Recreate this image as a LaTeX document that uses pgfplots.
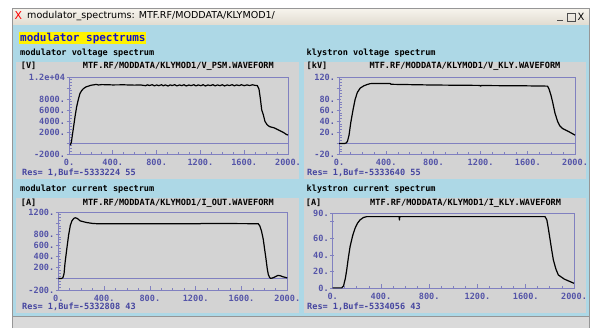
\documentclass[border=0pt]{standalone}
\usepackage{fontspec}
\usepackage{pgfplots}
\pgfplotsset{compat=1.18}
\setmainfont{DejaVu Sans}
\newfontfamily\mono{DejaVu Sans Mono}
\definecolor{lblue}{RGB}{173,216,230}
\definecolor{pgrey}{RGB}{211,211,211}
\definecolor{tickcol}{RGB}{84,84,168}
\definecolor{axcol}{RGB}{128,128,192}
\definecolor{restext}{RGB}{70,70,160}
\definecolor{hlblue}{RGB}{20,20,200}
\definecolor{framegrey}{RGB}{150,150,150}
\definecolor{bottomgrey}{RGB}{218,218,218}
\definecolor{bartop}{RGB}{246,243,236}
\definecolor{barbot}{RGB}{226,221,210}
\newcommand{\lab}{\mono\bfseries\fontsize{8.6}{9}\selectfont}
\pgfplotsset{
  kly/.style={
    scale only axis,
    scaled x ticks=false,
    scaled y ticks=false,
    axis line style={axcol, line width=0.8bp},
    tick style={axcol, line width=0.8bp},
    major tick length=4bp,
    minor tick length=2.5bp,
    tick align=inside,
    tick pos=left,
    minor x tick num=3,
    minor y tick num=3,
    major y tick style={xshift=-2.5bp},
    ticklabel style={font=\lab, text=tickcol},
    xticklabel style={yshift=-1.5bp},
    yticklabel style={xshift=-0.5bp},
    xmin=0, xmax=2000,
    xtick={0,400,800,1200,1600,2000},
    xticklabels={0.,400.,800.,1200.,1600.,2000.},
    axis background/.style={fill=pgrey},
    clip=false,
  },
  curve/.style={black, line width=1.2bp, line join=round},
  zeroline/.style={axcol, line width=0.8bp},
}
\begin{document}
\begin{tikzpicture}[x=1bp,y=1bp]
\useasboundingbox (0,0) rectangle (590,328);
\fill[white] (0,0) rectangle (590,328);
% window
\fill[bottomgrey] (13,0) rectangle (590,12);
\fill[lblue] (13,12) rectangle (589,304);
\shade[top color=bartop, bottom color=barbot] (13,304) rectangle (589,319);
\draw[framegrey, line width=1bp] (12.5,0) -- (12.5,319.5) -- (589.5,319.5) -- (589.5,0);
\draw[framegrey, line width=0.8bp] (13,12) -- (589,12);
\node[anchor=west, inner sep=0, text=red, font=\fontsize{11}{12}\selectfont] at (14.5,312) {X};
\node[anchor=west, inner sep=0, font=\fontsize{9.6}{11}\selectfont] at (27,312) {modulator\_spectrums: MTF.RF/MODDATA/KLYMOD1/};
% window buttons
\draw[black!70, line width=1bp] (557,307.5) -- (563,307.5);
\draw[black!70, line width=0.8bp] (567,307) rectangle (575,315);
\node[anchor=center, inner sep=0, font=\fontsize{10}{11}\selectfont] at (581,311) {X};
% highlight title
\fill[yellow] (19,283.7) rectangle (145.7,295.7);
\node[anchor=west, inner sep=0, text=hlblue, font=\mono\bfseries\fontsize{11}{12}\selectfont] at (20,289.5) {modulator spectrums};
% panels
\fill[pgrey] (16,149) rectangle (299,266);
\fill[pgrey] (304,149) rectangle (586,266);
\fill[pgrey] (16,15.3) rectangle (299,130);
\fill[pgrey] (304,15.3) rectangle (586,130);
% panel titles
\node[anchor=west, inner sep=0, font=\lab] at (20,275) {modulator voltage spectrum};
\node[anchor=west, inner sep=0, font=\lab] at (306.5,275) {klystron voltage spectrum};
\node[anchor=west, inner sep=0, font=\lab] at (20,139) {modulator current spectrum};
\node[anchor=west, inner sep=0, font=\lab] at (306.5,139) {klystron current spectrum};
% headers
\node[anchor=west, inner sep=0, font=\lab] at (20.7,262) {[V]};
\node[anchor=west, inner sep=0, font=\lab] at (82.7,262) {MTF.RF/MODDATA/KLYMOD1/V\_PSM.WAVEFORM};
\node[anchor=west, inner sep=0, font=\lab] at (306.5,262) {[kV]};
\node[anchor=west, inner sep=0, font=\lab] at (369.3,262) {MTF.RF/MODDATA/KLYMOD1/V\_KLY.WAVEFORM};
\node[anchor=west, inner sep=0, font=\lab] at (20.7,124.7) {[A]};
\node[anchor=west, inner sep=0, font=\lab] at (82.7,124.7) {MTF.RF/MODDATA/KLYMOD1/I\_OUT.WAVEFORM};
\node[anchor=west, inner sep=0, font=\lab] at (305.7,124.7) {[A]};
\node[anchor=west, inner sep=0, font=\lab] at (370,124.7) {MTF.RF/MODDATA/KLYMOD1/I\_KLY.WAVEFORM};
% Res lines
\node[anchor=west, inner sep=0, font=\lab, text=restext] at (22,155.5) {Res= 1,Buf=-5333224 55};
\node[anchor=west, inner sep=0, font=\lab, text=restext] at (307,155.5) {Res= 1,Buf=-5333640 55};
\node[anchor=west, inner sep=0, font=\lab, text=restext] at (22,21.5) {Res= 1,Buf=-5332808 43};
\node[anchor=west, inner sep=0, font=\lab, text=restext] at (307,21.5) {Res= 1,Buf=-5334056 43};

% ---------- top left: modulator voltage
\begin{axis}[kly, at={(69bp,174bp)}, anchor=south west, width=219bp, height=77bp,
  ymin=-2000, ymax=12000,
  ytick={-2000,0,2000,4000,6000,8000,10000,12000},
  yticklabels={-2000.,{},2000.,4000.,6000.,8000.,{},1.2e+04}]
\addplot[zeroline] coordinates {(0,0) (2000,0)};
\addplot[curve] coordinates {
(12,-400) (22,200) (32,1600) (45,3400) (55,4800) (70,6600) (85,7900) (100,9000)
(115,9500) (130,9850) (155,10200) (200,10500) (250,10650) (270,10550) (300,10620) (400,10560)
(500,10580) (600,10520) (650,10560) (700,10420) (715,10580) (735,10450) (760,10600)
(780,10380) (800,10560) (820,10420) (845,10600) (860,10400) (880,10560) (905,10360)
(925,10580) (940,10430) (965,10600) (985,10380) (1010,10560) (1030,10420) (1050,10600)
(1070,10370) (1095,10550) (1115,10430) (1140,10600) (1160,10380) (1180,10560)
(1205,10420) (1225,10600) (1245,10370) (1270,10560) (1290,10430) (1315,10600)
(1335,10380) (1355,10560) (1380,10420) (1400,10600) (1420,10370) (1445,10560)
(1465,10430) (1490,10600) (1510,10390) (1530,10560) (1555,10430) (1575,10600)
(1600,10420) (1625,10560) (1650,10450) (1675,10580) (1700,10480)
(1720,10450) (1735,9800) (1748,8000) (1760,6000) (1775,5100) (1790,3900)
(1810,3300) (1830,3000) (1845,2900) (1865,2800) (1880,2700) (1900,2500)
(1920,2300) (1960,1900) (1985,1550) (2000,1450)};
\end{axis}

% ---------- top right: klystron voltage
\begin{axis}[kly, at={(339bp,173.5bp)}, anchor=south west, width=236bp, height=77.5bp,
  ymin=-20, ymax=120,
  ytick={-20,0,20,40,60,80,100,120},
  yticklabels={-20.,{},20.,40.,60.,80.,{},120.}]
\addplot[zeroline] coordinates {(0,0) (2000,0)};
\addplot[curve] coordinates {
(0,0) (50,0) (62,1) (72,4) (85,15) (100,38) (120,62) (136,79) (155,92) (180,100)
(210,104) (240,106.5) (264,108) (300,108.3) (434,108.3) (440,106.8) (800,105.5)
(1195,104.8) (1200,103.5) (1205,104.6) (1600,104) (1767,103.5) (1780,98) (1795,88)
(1810,75) (1830,55) (1852,40) (1870,32) (1894,27) (1950,21) (2000,15)};
\end{axis}

% ---------- bottom left: modulator current
\begin{axis}[kly, at={(58.3bp,38bp)}, anchor=south west, width=229bp, height=78bp,
  ymin=-200, ymax=1200,
  ytick={-200,0,200,400,600,800,1000,1200},
  yticklabels={-200.,{},200.,400.,600.,800.,{},1200.}]
\addplot[zeroline] coordinates {(0,0) (2000,0)};
\addplot[curve] coordinates {
(0,5) (25,5) (40,20) (50,90) (58,270) (73,520) (90,784) (105,960) (119,1041)
(135,1085) (148,1097) (165,1085) (192,1040) (220,1025) (250,1010) (300,995)
(337,990) (800,990) (1240,990) (1250,995) (1746,990) (1760,950) (1775,855)
(1790,710) (1800,560) (1813,370) (1825,180) (1834,80) (1845,25) (1854,10)
(1870,15) (1891,34) (1920,63) (1940,55) (1958,40) (1980,28) (2000,17)};
\end{axis}

% ---------- bottom right: klystron current
\begin{axis}[kly, at={(332.7bp,39.7bp)}, anchor=south west, width=241.3bp, height=75bp,
  ymin=0, ymax=90,
  ytick={0,20,40,60,80,90},
  yticklabels={0.,20.,40.,60.,{},90.}]
\addplot[curve] coordinates {
(0,0.5) (75,0.5) (90,3) (105,12) (116,22) (130,37) (144,50) (165,63) (185,72)
(205,78) (226,82) (255,85) (282,86) (550,86) (553,82) (556,86) (1760,86) (1775,82)
(1787,72) (1800,60) (1815,46) (1829,34) (1850,23) (1870,16) (1920,11) (2000,6)};
\end{axis}
\end{tikzpicture}
\end{document}
